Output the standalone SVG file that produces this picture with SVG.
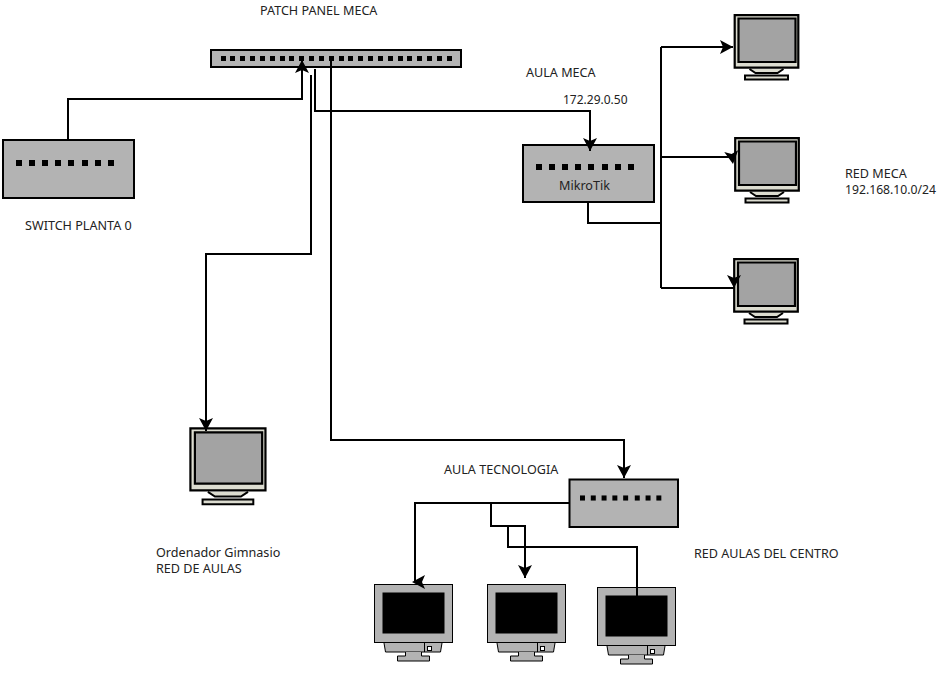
<svg xmlns="http://www.w3.org/2000/svg" width="941" height="687" viewBox="0 0 941 687">
<style>
text{font-family:"Noto Sans","Open Sans",sans-serif;font-size:12.6px;fill:#222}
.c{fill:none;stroke:#000;stroke-width:2}
.b{fill:#b3b3b3;stroke:#000;stroke-width:2}
.p{fill:#000}
#mon *{vector-effect:non-scaling-stroke}
</style>
<defs>
<marker id="a" markerUnits="userSpaceOnUse" markerWidth="16" markerHeight="16" refX="13" refY="7" orient="auto" overflow="visible">
<path d="M13 7 0 0 3 7 0 14Z" fill="#000"/>
</marker>
<path id="ah" d="M0 0-13-7-10 0-13 7Z" fill="#000"/>
<g id="mon">
<rect x="1.200" y="1.200" width="63.600" height="52.500" fill="#dcdcd0" stroke="#000" stroke-width="2.200"/>
<rect x="5" y="4.500" width="57" height="43.500" fill="#a3a3a3" stroke="#000" stroke-width="2.200"/>
<path d="M16 55 22 59H44L50 55" fill="#dcdcd0" stroke="#000" stroke-width="2"/>
<rect x="11.500" y="61.500" width="43" height="4" fill="#dcdcd0" stroke="#000" stroke-width="2"/>
</g>
<g id="blk" stroke="#000">
<rect x="0.500" y="0.500" width="78" height="58" fill="#b3b3b3"/>
<rect x="9" y="9" width="61" height="40" fill="#000"/>
<path d="M10 59 11.500 68H66.500L68 59" fill="#b3b3b3"/>
<path d="M50.500 59V68" fill="none"/>
<rect x="53.500" y="62.500" width="4" height="4" fill="#fff"/>
<path d="M31.500 68V72H23.500V77H55.500V72H47.500V68" fill="#b3b3b3"/>
</g>
<g id="p8">
<rect x="0" y="-3" width="6" height="6"/><rect x="13" y="-3" width="6" height="6"/><rect x="26" y="-3" width="6" height="6"/><rect x="39" y="-3" width="6" height="6"/><rect x="52" y="-3" width="6" height="6"/><rect x="66" y="-3" width="6" height="6"/><rect x="79" y="-3" width="6" height="6"/><rect x="92" y="-3" width="6" height="6"/>
</g>
</defs>
<g id="patch-panel">
<rect class="b" x="211" y="50" width="250" height="17"/>
<g class="p" id="ports">
<rect x="221" y="56" width="5" height="5"/><rect x="230" y="56" width="5" height="5"/><rect x="240" y="56" width="5" height="5"/><rect x="250" y="56" width="5" height="5"/><rect x="260" y="56" width="5" height="5"/><rect x="270" y="56" width="5" height="5"/><rect x="280" y="56" width="5" height="5"/><rect x="289" y="56" width="5" height="5"/><rect x="299" y="56" width="5" height="5"/><rect x="309" y="56" width="5" height="5"/><rect x="319" y="56" width="5" height="5"/><rect x="329" y="56" width="5" height="5"/><rect x="339" y="56" width="5" height="5"/><rect x="348" y="56" width="5" height="5"/><rect x="358" y="56" width="5" height="5"/><rect x="368" y="56" width="5" height="5"/><rect x="378" y="56" width="5" height="5"/><rect x="388" y="56" width="5" height="5"/><rect x="398" y="56" width="5" height="5"/><rect x="407" y="56" width="5" height="5"/><rect x="417" y="56" width="5" height="5"/><rect x="427" y="56" width="5" height="5"/><rect x="437" y="56" width="5" height="5"/><rect x="447" y="56" width="5" height="5"/>
</g>
<text x="260" y="15">PATCH PANEL MECA</text>
</g>
<g id="switch-planta0">
<rect class="b" x="3" y="140" width="131" height="58"/>
<use href="#p8" x="16" y="163"/>
<text x="25" y="230">SWITCH PLANTA 0</text>
</g>
<g id="mikrotik">
<rect class="b" x="523" y="145" width="131" height="57"/>
<use href="#p8" x="536" y="167"/>
<text x="559" y="190">MikroTik</text>
<text x="526" y="77">AULA MECA</text>
<text x="563" y="104" style="font-size:12px">172.29.0.50</text>
</g>
<g id="switch-tecnologia">
<rect class="b" x="569.500" y="479.500" width="108.500" height="47.500"/>
<g transform="translate(580 498) scale(.83 .85)"><use href="#p8"/></g>
<text x="444" y="474">AULA TECNOLOGIA</text>
</g>
<g id="pc-meca-1"><use href="#mon" x="733.500" y="14"/></g>
<g id="pc-meca-2"><use href="#mon" x="734" y="137"/></g>
<g id="pc-meca-3"><use href="#mon" x="733" y="258"/>
<text x="845" y="178">RED MECA</text><text x="845" y="194" style="font-size:12.2px">192.168.10.0/24</text></g>
<g id="pc-gimnasio"><g transform="translate(189 427) scale(1.18)"><use href="#mon"/></g>
<text x="156" y="557">Ordenador Gimnasio</text><text x="156" y="573">RED DE AULAS</text></g>
<g id="pc-aula-1"><use href="#blk" x="374" y="584"/></g>
<g id="pc-aula-2"><use href="#blk" x="487" y="584"/></g>
<g id="pc-aula-3"><use href="#blk" x="597" y="587"/>
<text x="694" y="558">RED AULAS DEL CENTRO</text></g>
<g id="connectors">
<path class="c" d="M68 140V99H302V60" marker-end="url(#a)"/>
<path class="c" d="M315 69V111H590V151" marker-end="url(#a)"/>
<path class="c" d="M311 75V254H206V431" marker-end="url(#a)"/>
<path class="c" d="M331 60V440H624V478" marker-end="url(#a)"/>
<path class="c" d="M588 202V223H661"/>
<path class="c" d="M661 47V288"/>
<path class="c" d="M661 47H733" marker-end="url(#a)"/>
<path class="c" d="M661 157H732"/>
<use href="#ah" transform="translate(733 164) rotate(82)"/>
<path class="c" d="M661 288H734"/>
<use href="#ah" transform="translate(734 288) rotate(90)"/>
<path class="c" d="M569 503H415V582"/>
<use href="#ah" transform="translate(412 582) rotate(180)"/>
<path class="c" d="M491 503V526H525V578" marker-end="url(#a)"/>
<path class="c" d="M508 526V547H637V597"/>
</g>
</svg>
